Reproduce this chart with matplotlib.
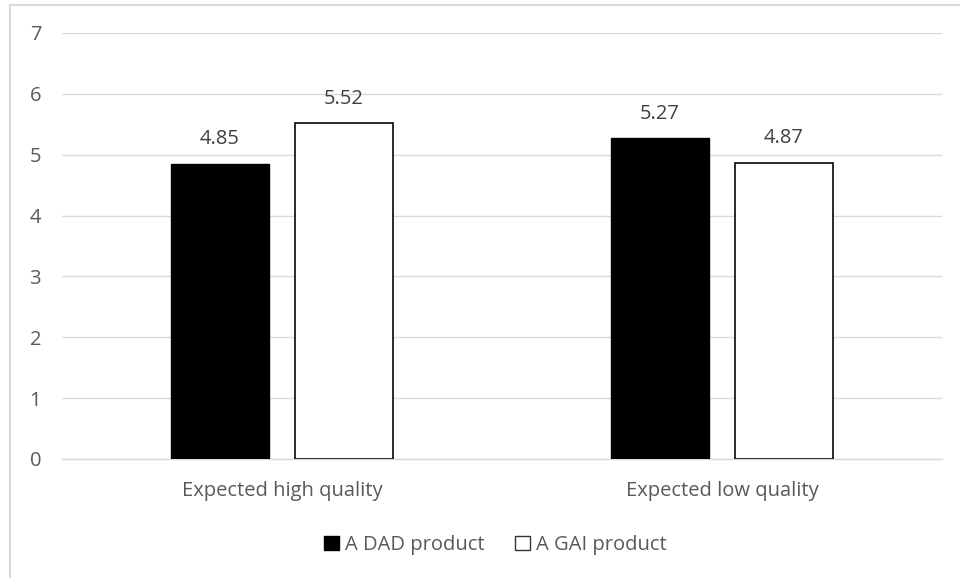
import numpy as np
from matplotlib import pyplot as plt
from matplotlib.patches import Rectangle
from matplotlib.lines import Line2D

categories = ["Expected high quality", "Expected low quality"]
dad_values = [4.85, 5.27]
gai_values = [5.52, 4.87]
series_names = ["A DAD product", "A GAI product"]

plt.rcParams['font.family'] = ['Open Sans', 'DejaVu Sans']
text_col = "#595959"
fsize = 14.5

fig = plt.figure(figsize=(9.6, 5.78), dpi=100)
ax = fig.add_axes([62/960, 119/578, 880/960, 426/578])

x = np.arange(len(categories))
width = 0.2227
offset = 0.141

bars1 = ax.bar(x - offset, dad_values, width, color="black", edgecolor="black",
               linewidth=1, label=series_names[0], zorder=3)
bars2 = ax.bar(x + offset, gai_values, width, color="white", edgecolor="#1a1a1a",
               linewidth=1.3, label=series_names[1], zorder=3)

# value labels above each bar
for bars, vals in ((bars1, dad_values), (bars2, gai_values)):
    for b, v in zip(bars, vals):
        ax.text(b.get_x() + b.get_width()/2, v + 0.40, "{0:.2f}".format(v),
                ha="center", va="center", fontsize=fsize, color="#404040")

ax.set_xlim(-0.5, 1.5)
ax.set_ylim(0, 7)
ax.set_yticks(range(8))
ax.set_xticks(x)
ax.set_xticklabels(categories)
ax.tick_params(axis="both", length=0, labelsize=fsize, labelcolor=text_col)
ax.tick_params(axis="x", pad=16)
ax.tick_params(axis="y", pad=15)
ax.yaxis.grid(True, color="#d9d9d9", linewidth=1, zorder=0)
for s in ["top", "right", "left"]:
    ax.spines[s].set_visible(False)
ax.spines["bottom"].set_color("#d9d9d9")
ax.spines["bottom"].set_linewidth(1)

# outer chart frame
fig.add_artist(Line2D([10/960, 10/960], [0, 1 - 5/578], color="#d9d9d9",
                      linewidth=1.5, transform=fig.transFigure))
fig.add_artist(Line2D([10/960, 1], [1 - 5/578, 1 - 5/578], color="#d9d9d9",
                      linewidth=1.5, transform=fig.transFigure))

handles = [Rectangle((0, 0), 1, 1, facecolor="black", edgecolor="black"),
           Rectangle((0, 0), 1, 1, facecolor="white", edgecolor="#333333")]
leg = fig.legend(handles, series_names, loc="center", bbox_to_anchor=(495/960, 1 - 545/578),
                 ncol=2, frameon=False, fontsize=fsize, handlelength=0.75, handleheight=0.75,
                 handletextpad=0.3, columnspacing=1.5)
for t in leg.get_texts():
    t.set_color(text_col)

fig.savefig("out.png", dpi=100)
